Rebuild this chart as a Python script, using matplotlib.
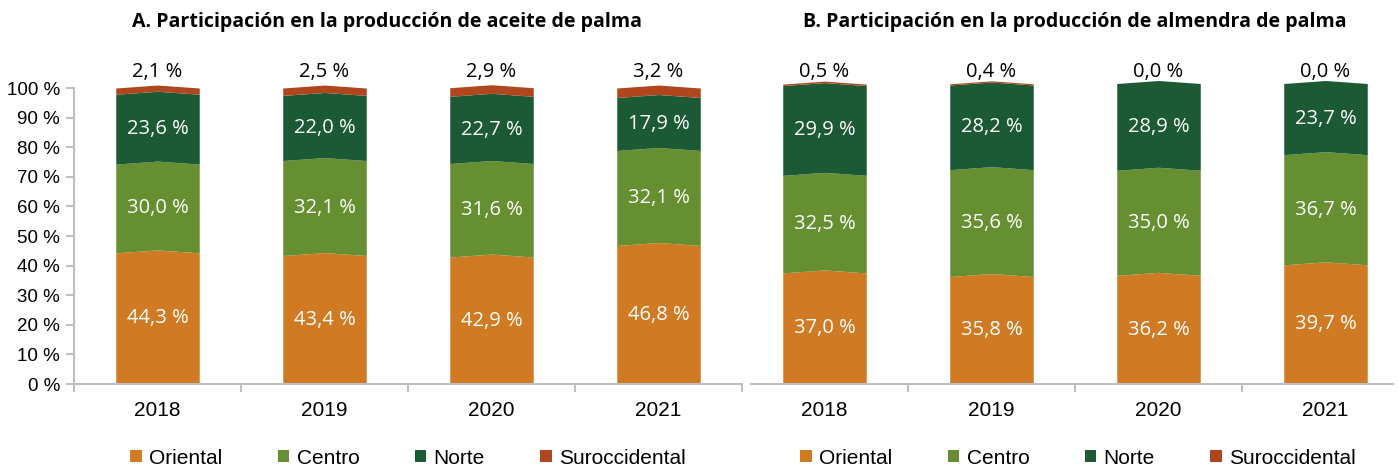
import matplotlib
matplotlib.use("Agg")
import matplotlib.pyplot as plt
import matplotlib.transforms as mtransforms
from matplotlib.patches import Patch
import numpy as np

years = ["2018", "2019", "2020", "2021"]
series_names = ["Oriental", "Centro", "Norte", "Suroccidental"]
colors = ["#D07A24", "#658F31", "#1C5935", "#B0461E"]

aceite_oriental = [44.3, 43.4, 42.9, 46.8]
aceite_centro = [30.0, 32.1, 31.6, 32.1]
aceite_norte = [23.6, 22.0, 22.7, 17.9]
aceite_suroccidental = [2.1, 2.5, 2.9, 3.2]

almendra_oriental = [37.0, 35.8, 36.2, 39.7]
almendra_centro = [32.5, 35.6, 35.0, 36.7]
almendra_norte = [29.9, 28.2, 28.9, 23.7]
almendra_suroccidental = [0.5, 0.4, 0.0, 0.0]

title_a = "A. Participación en la producción de aceite de palma"
title_b = "B. Participación en la producción de almendra de palma"
y_ticks = [0, 10, 20, 30, 40, 50, 60, 70, 80, 90, 100]
y_tick_labels = ["0 %", "10 %", "20 %", "30 %", "40 %", "50 %", "60 %", "70 %", "80 %", "90 %", "100 %"]

W, H = 1399, 469
fig = plt.figure(figsize=(W / 100, H / 100), dpi=100)

VAL_FONT = ["Open Sans", "DejaVu Sans"]
AX_FONT = ["Liberation Sans", "DejaVu Sans"]
GRID = "#BFBFBF"


def fx(px):
    return px / W


def fy(py):
    return 1 - py / H


def fmt(v):
    return f"{v:.1f}".replace(".", ",") + " %"


def draw_panel(ax, data, ytop):
    x = np.arange(len(years))
    w = 0.5
    d = 1.0
    bottoms = np.zeros(len(years))
    for si, vals in enumerate(data):
        vals = np.array(vals, dtype=float)
        for j in range(len(years)):
            b = bottoms[j]
            t = b + vals[j]
            db = d if b > 0 else 0.0
            xs = [x[j] - w / 2, x[j], x[j] + w / 2]
            lo = [b, b + db, b]
            hi = [t, t + d, t]
            if vals[j] > 0:
                ax.fill_between(xs, lo, hi, color=colors[si], lw=0, clip_on=False, zorder=2)
            if si < len(data) - 1:
                ax.text(x[j], (b + t) / 2, fmt(vals[j]), ha="center", va="center",
                        color="white", fontsize=14.5, family=VAL_FONT, zorder=3)
        bottoms = bottoms + vals
    # top labels (last series)
    trans = mtransforms.blended_transform_factory(ax.transData, fig.transFigure)
    for j in range(len(years)):
        ax.text(x[j], fy(72), fmt(data[-1][j]), ha="center", va="center", color="black",
                fontsize=14.5, family=VAL_FONT, transform=trans, zorder=3)
    ax.set_ylim(0, ytop)
    ax.set_xticks(x)
    ax.set_xticklabels(years, fontsize=15, family=AX_FONT)
    ax.tick_params(axis="x", which="major", length=0, pad=12)
    for s in ["top", "right"]:
        ax.spines[s].set_visible(False)
    ax.spines["bottom"].set_color(GRID)
    ax.spines["bottom"].set_linewidth(1.5)
    ax.set_facecolor("none")


# Left panel
ax1 = fig.add_axes([fx(74), fy(384), fx(742) - fx(74), fy(88) - fy(384)])
draw_panel(ax1, [aceite_oriental, aceite_centro, aceite_norte, aceite_suroccidental], 100)
ax1.set_xlim(-0.5, 3.5)
ax1.set_xticks([-0.5, 0.5, 1.5, 2.5, 3.5], minor=True)
ax1.tick_params(axis="x", which="minor", length=6, color=GRID, width=1.5)
ax1.set_yticks(y_ticks)
ax1.set_yticklabels(y_tick_labels, fontsize=13.5, family=AX_FONT)
ax1.tick_params(axis="y", length=6, color=GRID, width=1.5, pad=4)
ax1.spines["left"].set_color(GRID)
ax1.spines["left"].set_linewidth(1.5)

# Right panel
ax2 = fig.add_axes([fx(751), fy(384), fx(1393) - fx(751), fy(88) - fy(384)])
draw_panel(ax2, [almendra_oriental, almendra_centro, almendra_norte, almendra_suroccidental], 98.6)
ax2.set_xlim(-0.5 + 10 / 167, 3.5 - 16 / 167)
ax2.set_xticks([0.5, 1.5, 2.5], minor=True)
ax2.tick_params(axis="x", which="minor", length=6, color=GRID, width=1.5)
ax2.spines["left"].set_visible(False)
ax2.set_yticks([])

fig.text(fx(387), fy(22), title_a, ha="center", va="center", fontsize=14.1, fontweight="bold", family=VAL_FONT)
fig.text(fx(1075), fy(22), title_b, ha="center", va="center", fontsize=14.1, fontweight="bold", family=VAL_FONT)

handles = [Patch(facecolor=c, edgecolor="none") for c in colors]
for cx in [408, 1078]:
    fig.legend(handles, series_names, loc="center", bbox_to_anchor=(fx(cx), fy(458)), ncol=4,
               frameon=False, handlelength=0.55, handleheight=0.55, handletextpad=0.35,
               columnspacing=2.66, prop={"family": AX_FONT, "size": 15})

fig.savefig("out.png", dpi=100)
